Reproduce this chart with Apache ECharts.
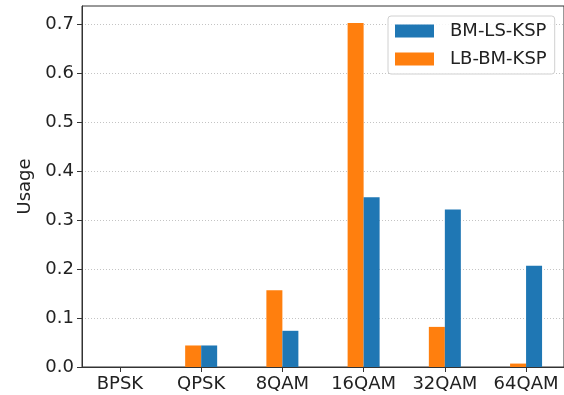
<!DOCTYPE html>
<html>
<head>
<meta charset="utf-8">
<script src="https://cdn.jsdelivr.net/npm/echarts@6/dist/echarts.min.js"></script>
<style>html,body{margin:0;padding:0;background:#fff}#c{width:564px;height:395px}</style>
</head>
<body>
<div id="c"></div>
<script>
const categories = ['BPSK', 'QPSK', '8QAM', '16QAM', '32QAM', '64QAM'];
const lbBmKsp = [0, 0.044, 0.157, 0.703, 0.082, 0.007];
const bmLsKsp = [0, 0.044, 0.074, 0.347, 0.322, 0.207];
const yTicks = [0, 0.1, 0.2, 0.3, 0.4, 0.5, 0.6, 0.7];

const catIdx = categories.map((_, i) => i);
const font = 'DejaVu Sans';
const chart = echarts.init(document.getElementById('c'), null, {renderer: 'canvas'});
chart.setOption({
  animation: false,
  backgroundColor: '#fff',
  textStyle: {fontFamily: font},
  grid: {left: 82, top: 6, bottom: 28, right: -5, show: true, borderColor: '#333', borderWidth: 1, backgroundColor: 'transparent'},
  legend: {
    orient: 'vertical', left: 388, top: 16,
    data: ['BM-LS-KSP', 'LB-BM-KSP'],
    itemWidth: 39, itemHeight: 13, itemGap: 10,
    icon: 'rect',
    padding: [6, 8, 6, 7],
    backgroundColor: 'rgba(255,255,255,0.85)',
    borderColor: '#d0d0d0', borderWidth: 1, borderRadius: 3,
    textStyle: {fontFamily: font, fontSize: 18, color: '#222', padding: [0, 0, 0, 11]}
  },
  xAxis: {
    type: 'value', min: -0.467, max: 5.467,
    axisLine: {show: true, onZero: false, lineStyle: {color: '#333', width: 1}},
    axisTick: {show: true, length: 5, inside: false, customValues: catIdx, lineStyle: {color: '#333'}},
    axisLabel: {customValues: catIdx, formatter: v => categories[Math.round(v)], fontFamily: font, fontSize: 18, color: '#222', margin: 8},
    splitLine: {show: false}
  },
  yAxis: {
    type: 'value', min: 0, max: 0.738,
    name: 'Usage', nameLocation: 'middle', nameGap: 47,
    nameTextStyle: {fontFamily: font, fontSize: 18, color: '#222'},
    axisLine: {show: true, onZero: false, lineStyle: {color: '#333', width: 1}},
    axisTick: {show: true, length: 5, customValues: yTicks, lineStyle: {color: '#333'}},
    axisLabel: {customValues: yTicks, formatter: v => v.toFixed(1), fontFamily: font, fontSize: 18, color: '#222', margin: 8},
    splitLine: {show: true, lineStyle: {color: '#c4c4c4', type: [1, 2], width: 1}}
  },
  series: [
    {name: 'LB-BM-KSP', type: 'bar', barWidth: 16, barGap: '0%', itemStyle: {color: '#ff7f0e'},
     data: lbBmKsp.map((v, i) => [i, v])},
    {name: 'BM-LS-KSP', type: 'bar', barWidth: 16, barGap: '0%', itemStyle: {color: '#1f77b4'},
     data: bmLsKsp.map((v, i) => [i, v])}
  ]
});
</script>
</body>
</html>
